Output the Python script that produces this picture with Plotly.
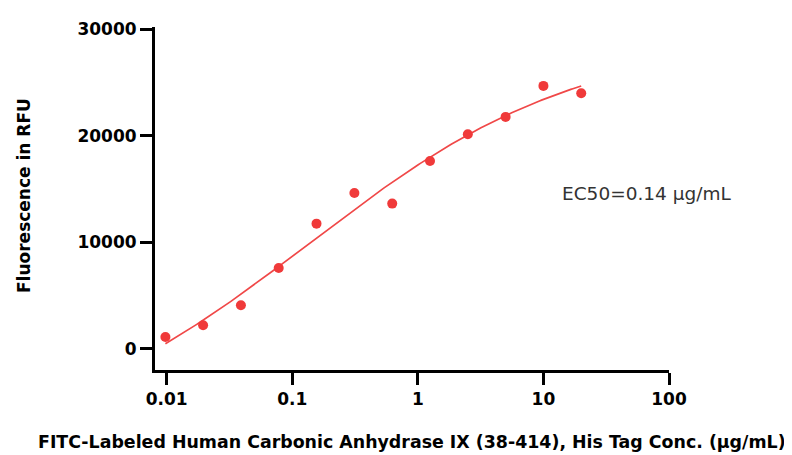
import numpy as np
import plotly.graph_objects as go

# Data
conc = [0.00977, 0.0195, 0.039, 0.078, 0.156, 0.3125, 0.625, 1.25, 2.5, 5, 10, 20]
rfu = [1090, 2190, 4070, 7570, 11730, 14610, 13610, 17610, 20120, 21750, 24660, 23970]
x_ticks = [0.01, 0.1, 1, 10, 100]
x_tick_labels = ["0.01", "0.1", "1", "10", "100"]
y_ticks = [0, 10000, 20000, 30000]
y_tick_labels = ["0", "10000", "20000", "30000"]

# 4-parameter logistic fit (grid over logEC50 & hill, linear LS for bottom/top)
lx = np.log10(np.array(conc))
yv = np.array(rfu, dtype=float)
best = None
for le in np.arange(-2.0, 1.5, 0.01):
    for h in np.arange(0.3, 2.0, 0.01):
        f = 1.0 / (1.0 + 10 ** ((le - lx) * h))
        A = np.vstack([1 - f, f]).T
        coef, *_ = np.linalg.lstsq(A, yv, rcond=None)
        r = np.sum((A @ coef - yv) ** 2)
        if best is None or r < best[0]:
            best = (r, le, h, coef)
_, le, h, (bottom, top) = best
xc = np.logspace(np.log10(conc[0]), np.log10(conc[-1]), 200)
yc = bottom + (top - bottom) / (1.0 + 10 ** ((le - np.log10(xc)) * h))

OFF = 8  # default page body margin
W, H = 792 - OFF, 455 - OFF
L, R, T, B = 155 - OFF, 669 - OFF, 27 - OFF, 370 - OFF
pw, ph = R - L, B - T

fig = go.Figure()
fig.add_trace(go.Scatter(x=xc, y=yc, mode="lines",
                         line=dict(color="#f04848", width=1.7), hoverinfo="skip"))
fig.add_trace(go.Scatter(x=conc, y=rfu, mode="markers",
                         marker=dict(color="#f03a3a", size=10, line=dict(width=0))))

bold = dict(family="DejaVu Sans", size=17, color="black", weight="bold")

fig.add_annotation(xref="paper", yref="paper", x=(560 - OFF - L) / pw,
                   y=(B - (193 - OFF)) / ph, xanchor="left", yanchor="middle",
                   text="EC50=0.14 μg/mL", showarrow=False,
                   font=dict(family="DejaVu Sans", size=18.5, color="#333333"))
fig.add_annotation(xref="paper", yref="paper", x=(412 - OFF - L) / pw,
                   y=(B - (442 - OFF)) / ph, xanchor="center", yanchor="middle",
                   text="FITC-Labeled Human Carbonic Anhydrase IX (38-414), His Tag Conc. (μg/mL)",
                   showarrow=False, font=dict(bold, size=17.4))
fig.add_annotation(xref="paper", yref="paper", x=(24 - OFF - L) / pw,
                   y=(B - (196 - OFF)) / ph, xanchor="center", yanchor="middle",
                   text="Fluorescence in RFU", textangle=-90,
                   showarrow=False, font=bold)

fig.update_layout(
    width=W, height=H,
    margin=dict(l=L, r=W - R, t=T, b=H - B),
    paper_bgcolor="white", plot_bgcolor="white",
    showlegend=False,
    font=dict(family="DejaVu Sans", color="black"),
)
fig.update_xaxes(
    type="log", range=[-2.093, 2.0], automargin=False,
    tickvals=x_ticks, ticktext=x_tick_labels,
    showline=True, linecolor="black", linewidth=3,
    ticks="outside", ticklen=12, tickwidth=2.7, tickcolor="black",
    showgrid=False, zeroline=False,
    tickfont=bold,
)
fig.update_yaxes(
    range=[-2010, 30190], automargin=False,
    tickvals=y_ticks, ticktext=y_tick_labels,
    showline=True, linecolor="black", linewidth=3,
    ticks="outside", ticklen=12, tickwidth=2.7, tickcolor="black",
    showgrid=False, zeroline=False,
    tickfont=bold,
)
fig.write_html("out.html")
